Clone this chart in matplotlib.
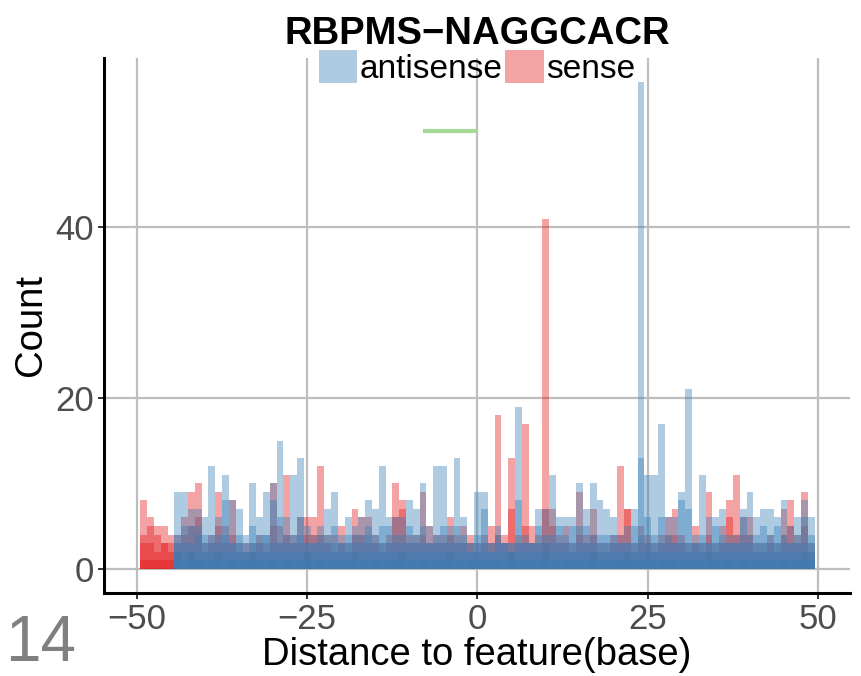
import numpy as np
import matplotlib.pyplot as plt
from matplotlib.patches import Patch

plt.rcParams['font.family'] = ['Liberation Sans', 'DejaVu Sans']

title = "RBPMS\u2212NAGGCACR"
panel_tag = "14"
motif_len = 8

# distance bins (base), one bar per base
bins = np.arange(-49, 50)

# counts; each strand is several overlapping groups
antisense_top = [0, 0, 0, 0, 0, 9, 9, 7, 7, 6,
                 12, 6, 11, 8, 7, 4, 10, 6, 9, 10,
                 15, 6, 11, 13, 5, 4, 5, 7, 9, 4,
                 6, 5, 6, 8, 7, 12, 6, 6, 6, 8,
                 7, 10, 5, 12, 12, 5, 13, 6, 3, 9,
                 9, 3, 5, 3, 3, 19, 4, 3, 7, 7,
                 11, 6, 6, 6, 10, 7, 10, 8, 7, 6,
                 4, 5, 7, 57, 11, 11, 17, 6, 6, 9,
                 21, 4, 11, 6, 6, 7, 4, 4, 7, 9,
                 6, 7, 7, 6, 8, 5, 6, 8, 6]
antisense_mid = [0, 0, 0, 0, 0, 4, 5, 5, 5, 4,
                 4, 4, 8, 3, 4, 3, 5, 4, 4, 8,
                 6, 4, 4, 6, 3, 3, 4, 4, 5, 3,
                 4, 4, 4, 5, 4, 5, 5, 4, 4, 5,
                 4, 5, 3, 4, 5, 4, 5, 4, 3, 4,
                 7, 3, 4, 3, 3, 8, 3, 3, 5, 4,
                 4, 5, 4, 5, 5, 5, 4, 4, 4, 4,
                 3, 3, 5, 13, 6, 4, 6, 4, 3, 8,
                 7, 3, 4, 3, 5, 4, 3, 3, 6, 4,
                 4, 5, 4, 5, 4, 3, 4, 6, 4]
antisense_low = [0, 0, 0, 0, 0, 3, 3, 3, 4, 3,
                 3, 3, 4, 3, 3, 2, 3, 3, 4, 3,
                 3, 3, 3, 4, 3, 3, 3, 3, 3, 3,
                 3, 3, 3, 4, 3, 3, 3, 3, 3, 3,
                 3, 3, 3, 3, 3, 3, 3, 3, 2, 3,
                 3, 2, 3, 3, 2, 3, 3, 3, 3, 3,
                 3, 3, 3, 3, 3, 3, 3, 3, 3, 3,
                 3, 3, 3, 4, 3, 3, 3, 3, 3, 3,
                 3, 3, 3, 3, 3, 3, 3, 3, 3, 3,
                 3, 3, 3, 3, 3, 3, 3, 3, 3]
antisense_base = [0, 0, 0, 0, 0, 2, 2, 2, 2, 2,
                  2, 2, 2, 2, 2, 2, 2, 2, 2, 2,
                  2, 2, 2, 2, 2, 2, 2, 2, 2, 2,
                  2, 2, 2, 2, 2, 2, 2, 2, 2, 2,
                  2, 2, 2, 2, 2, 2, 2, 2, 2, 2,
                  2, 2, 2, 2, 2, 2, 2, 2, 2, 2,
                  2, 2, 2, 2, 2, 2, 2, 2, 2, 2,
                  2, 2, 2, 2, 2, 2, 2, 2, 2, 2,
                  2, 2, 2, 2, 2, 2, 2, 2, 2, 2,
                  2, 2, 2, 2, 2, 2, 2, 2, 2]
antisense_floor = [0, 0, 0, 0, 0, 1, 1, 1, 1, 1,
                   1, 1, 1, 1, 1, 1, 1, 1, 1, 1,
                   1, 1, 1, 1, 1, 1, 1, 1, 1, 1,
                   1, 1, 1, 1, 1, 1, 1, 1, 1, 1,
                   1, 1, 1, 1, 1, 1, 1, 1, 1, 1,
                   1, 1, 1, 1, 1, 1, 1, 1, 1, 1,
                   1, 1, 1, 1, 1, 1, 1, 1, 1, 1,
                   1, 1, 1, 1, 1, 1, 1, 1, 1, 1,
                   1, 1, 1, 1, 1, 1, 1, 1, 1, 1,
                   1, 1, 1, 1, 1, 1, 1, 1, 1]

sense_top = [8, 6, 5, 5, 4, 4, 6, 9, 10, 3,
             4, 9, 5, 8, 3, 3, 3, 4, 3, 10,
             5, 11, 4, 6, 6, 6, 12, 4, 4, 5,
             3, 7, 6, 6, 4, 3, 4, 10, 8, 4,
             4, 9, 5, 4, 4, 6, 4, 5, 4, 3,
             4, 5, 18, 4, 13, 4, 17, 5, 4, 41,
             7, 4, 5, 3, 9, 4, 7, 3, 3, 4,
             12, 7, 3, 5, 4, 3, 4, 6, 7, 4,
             3, 5, 3, 9, 3, 5, 8, 11, 6, 6,
             3, 3, 4, 3, 7, 8, 4, 9, 3]
sense_mid = [4, 5, 4, 3, 3, 3, 4, 5, 6, 2,
             3, 5, 3, 4, 2, 2, 2, 3, 2, 5,
             3, 4, 3, 3, 4, 4, 4, 3, 2, 3,
             2, 4, 4, 3, 3, 2, 3, 6, 7, 3,
             3, 4, 3, 3, 3, 4, 3, 3, 3, 2,
             3, 3, 4, 3, 7, 3, 5, 3, 3, 7,
             5, 3, 3, 2, 4, 3, 4, 2, 2, 3,
             4, 7, 2, 3, 3, 2, 3, 4, 4, 3,
             2, 3, 2, 4, 2, 3, 6, 4, 4, 4,
             2, 2, 3, 2, 4, 5, 3, 5, 2]
sense_low = [3, 3, 2, 3, 2, 2, 0, 2, 1, 0,
             0, 2, 0, 1, 0, 0, 2, 0, 0, 1,
             0, 1, 0, 0, 2, 0, 1, 0, 0, 0,
             0, 2, 0, 0, 1, 0, 0, 1, 2, 0,
             0, 1, 0, 0, 0, 2, 0, 0, 1, 0,
             0, 0, 1, 0, 2, 0, 0, 0, 0, 3,
             0, 0, 1, 0, 0, 0, 2, 0, 0, 0,
             1, 2, 0, 0, 0, 0, 1, 0, 1, 0,
             0, 0, 0, 2, 0, 0, 1, 0, 1, 0,
             0, 0, 0, 0, 1, 0, 0, 2, 0]
sense_base = [1, 1, 1, 1, 1, 0, 0, 0, 0, 0,
              0, 0, 0, 0, 0, 0, 0, 0, 0, 0,
              0, 0, 0, 0, 0, 0, 0, 0, 0, 0,
              0, 0, 0, 0, 0, 0, 0, 0, 0, 0,
              0, 0, 0, 0, 0, 0, 0, 0, 0, 0,
              0, 0, 0, 0, 0, 0, 0, 0, 0, 0,
              0, 0, 0, 0, 0, 0, 0, 0, 0, 0,
              0, 0, 0, 0, 0, 0, 0, 0, 0, 0,
              0, 0, 0, 0, 0, 0, 0, 0, 0, 0,
              0, 0, 0, 0, 0, 0, 0, 0, 0]

blue = '#377EB8'
red = '#E41A1C'
alpha = 0.4

fig = plt.figure(figsize=(8.62, 6.76), dpi=100)
ax = fig.add_axes([0.1206, 0.1228, 0.8655, 0.7914])

# sense first, antisense on top
for counts in [sense_top, sense_mid, sense_low, sense_base]:
    ax.bar(bins, counts, width=1, color=red, alpha=alpha, linewidth=0)
for counts in [antisense_top, antisense_mid, antisense_low, antisense_base,
               antisense_floor]:
    ax.bar(bins, counts, width=1, color=blue, alpha=alpha, linewidth=0)

# motif position marker
ymax = max(max(antisense_top), max(sense_top))
ax.plot([-motif_len, 0], [0.9 * ymax, 0.9 * ymax], color='#A6D996', lw=3,
        solid_capstyle='butt')

ax.set_xlim(-54.85, 54.7)
ax.set_ylim(-2.85, 59.85)
ax.set_xticks([-50, -25, 0, 25, 50])
ax.set_yticks([0, 20, 40])
ax.set_axisbelow(True)
ax.grid(True, color='#BEBEBE', lw=1.6)

for side in ['top', 'right']:
    ax.spines[side].set_visible(False)
for side in ['left', 'bottom']:
    ax.spines[side].set_color('black')
    ax.spines[side].set_linewidth(2.2)
ax.tick_params(labelsize=25, labelcolor='#4D4D4D', length=4, width=1.4,
               color='#333333', pad=3)

ax.set_xlabel("Distance to feature(base)", fontsize=27.5, labelpad=1)
ax.set_ylabel("Count", fontsize=27.5, labelpad=5)
ax.set_title(title, fontsize=27.5, fontweight='bold', pad=10)

handles = [Patch(facecolor=blue, alpha=alpha, linewidth=0),
           Patch(facecolor=red, alpha=alpha, linewidth=0)]
ax.legend(handles, ['antisense', 'sense'], loc='center', ncol=2,
          bbox_to_anchor=(0.5534, 0.900), bbox_transform=fig.transFigure,
          frameon=False, fontsize=24, handlelength=1.15, handleheight=1.15,
          handletextpad=0.08, columnspacing=0.08, borderpad=0, borderaxespad=0)

fig.text(0.006, 0.003, panel_tag, fontsize=46, color='#808080',
         ha='left', va='bottom')

fig.savefig('out.png', dpi=100)
